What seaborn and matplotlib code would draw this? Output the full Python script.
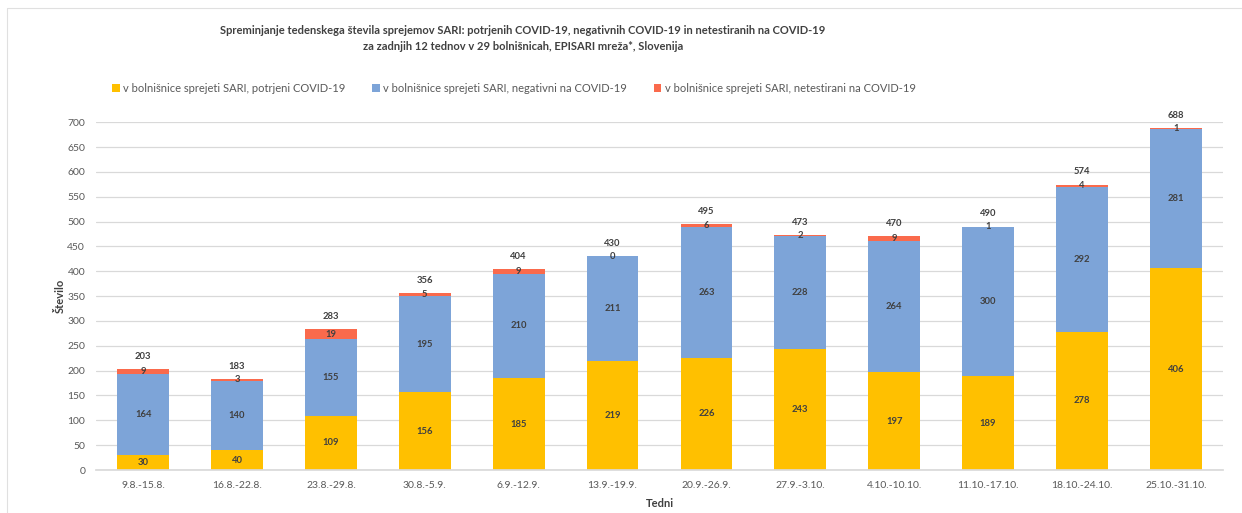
import matplotlib
matplotlib.use("Agg")
import matplotlib.pyplot as plt
import seaborn as sns
import pandas as pd
import numpy as np

# podatki
tedni = ["9.8.-15.8.", "16.8.-22.8.", "23.8.-29.8.", "30.8.-5.9.", "6.9.-12.9.",
         "13.9.-19.9.", "20.9.-26.9.", "27.9.-3.10.", "4.10.-10.10.", "11.10.-17.10.",
         "18.10.-24.10.", "25.10.-31.10."]
potrjeni = [30, 40, 109, 156, 185, 219, 226, 243, 197, 189, 278, 406]
negativni = [164, 140, 155, 195, 210, 211, 263, 228, 264, 300, 292, 281]
netestirani = [9, 3, 19, 5, 9, 0, 6, 2, 9, 1, 4, 1]
skupaj = [203, 183, 283, 356, 404, 430, 495, 473, 470, 490, 574, 688]

labels = ["v bolnišnice sprejeti SARI, potrjeni COVID-19",
          "v bolnišnice sprejeti SARI, negativni na COVID-19",
          "v bolnišnice sprejeti SARI, netestirani na COVID-19"]
colors = ["#FFC000", "#7DA4D8", "#FA6A4C"]

df = pd.DataFrame({"teden": tedni, "potrjeni": potrjeni,
                   "negativni": negativni, "netestirani": netestirani})

sns.set_theme(style="white")
plt.rcParams['font.family'] = ['Lato', 'DejaVu Sans']

fig = plt.figure(figsize=(12.42, 5.13), dpi=100)
ax = fig.add_axes([0.0775, 0.0838, 0.907, 0.678])

bottom = np.zeros(len(tedni))
text_col = "#404040"
for col, lab, c in zip(["potrjeni", "negativni", "netestirani"], labels, colors):
    sns.barplot(data=df, x="teden", y=col, color=c, bottom=bottom, width=0.55,
                label=lab, ax=ax, saturation=1, linewidth=0)
    vals = df[col].to_numpy()
    for i, v in enumerate(vals):
        ax.text(i, bottom[i] + v / 2, str(v), ha="center", va="center",
                fontsize=6.8, fontweight="bold", color=text_col)
    bottom = bottom + vals

for i, t in enumerate(skupaj):
    ax.text(i, t + 26, str(t), ha="center", va="center",
            fontsize=6.8, fontweight="bold", color=text_col)

ax.set_ylim(0, 700)
ax.set_xlim(-0.5, len(tedni) - 0.5)
ax.set_yticks(range(0, 701, 50))
ax.yaxis.grid(True, color="#D9D9D9", linewidth=0.9)
ax.set_axisbelow(True)
for s in ["top", "right", "left"]:
    ax.spines[s].set_visible(False)
ax.spines["bottom"].set_color("#D9D9D9")
ax.tick_params(axis="both", labelsize=7.5, colors="#595959", length=0, pad=8)

ax.set_xlabel("Tedni", fontsize=8, fontweight="bold", color=text_col, labelpad=6)
ax.set_ylabel("Število", fontsize=8, fontweight="bold", color=text_col, labelpad=1)

fig.suptitle("Spreminjanje tedenskega števila sprejemov SARI: potrjenih COVID-19, negativnih COVID-19 in netestiranih na COVID-19\n"
             "za zadnjih 12 tednov v 29 bolnišnicah, EPISARI mreža*, Slovenija",
             x=0.421, y=0.952, fontsize=8, fontweight="bold", color=text_col, linespacing=1.55)

leg = ax.legend(loc="center left", bbox_to_anchor=(0.005, 1.098), ncol=3, frameon=False,
                fontsize=8, handlelength=0.7, handleheight=0.7, handletextpad=0.3,
                columnspacing=2.4, labelcolor="#595959")

# okvir grafa
fig.add_artist(plt.Line2D([0.006, 0.006], [0, 0.985], color="#E0E0E0", lw=0.8))
fig.add_artist(plt.Line2D([0.006, 1], [0.985, 0.985], color="#E0E0E0", lw=0.8))

fig.savefig("out.png", dpi=100)
